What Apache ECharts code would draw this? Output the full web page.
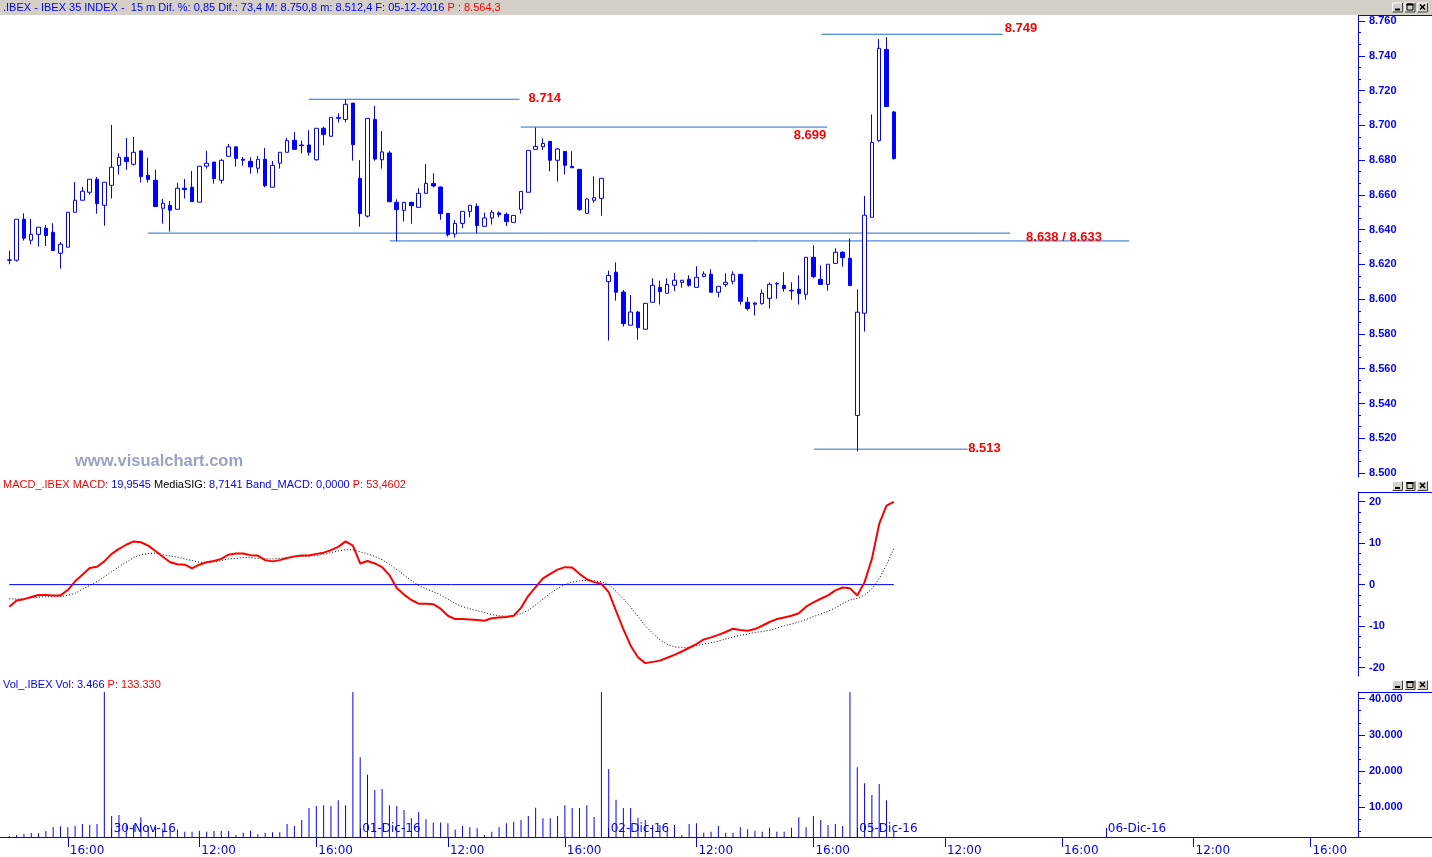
<!DOCTYPE html>
<html><head><meta charset="utf-8">
<script src="https://cdn.jsdelivr.net/npm/echarts@6/dist/echarts.min.js"></script>
<style>html,body{margin:0;padding:0;background:#fff}#c{width:1432px;height:857px}</style>
</head><body><div id="c"></div>
<script>
// ---------- categories ----------
const sessionTimes = ['09:00','09:15','09:30','09:45','10:00','10:15','10:30','10:45','11:00','11:15','11:30','11:45',
  '12:00','12:15','12:30','12:45','13:00','13:15','13:30','13:45','14:00','14:15','14:30','14:45',
  '15:00','15:15','15:30','15:45','16:00','16:15','16:30','16:45','17:00','17:15'];
const days = ['29-Nov-16','30-Nov-16','01-Dic-16','02-Dic-16','05-Dic-16','06-Dic-16','07-Dic-16'];
const firstTime = '14:00';
const timeTickLabels = ['12:00','16:00'];
const dayLabels = ['30-Nov-16','01-Dic-16','02-Dic-16','05-Dic-16','06-Dic-16'];

// ---------- price (OHLC, 15 m bars) ----------
const openV = [8622.6,8622.4,8646.0,8633.9,8637.3,8640.8,8638.5,8626.4,8629.9,8650.0,8656.9,8661.5,8669.0,8654.0,
 8665.5,8677.0,8681.6,8677.6,8685.3,8671.3,8668.4,8652.3,8654.0,8651.7,8663.8,8664.4,8655.8,8676.5,8678.9,8668.4,
 8682.2,8687.6,8680.5,8679.3,8675.3,8680.5,8664.4,8678.2,8684.5,8691.4,8688.7,8688.7,8680.2,8698.3,8693.7,8704.0,8703.4,8712.8,
 8669.5,8647.8,8703.4,8680.2,8684.1,8655.7,8651.1,8655.7,8652.8,8660.9,8666.6,8664.5,8649.4,8637.5,8643.6,8650.5,
 8653.4,8641.9,8646.7,8649.6,8648.8,8644.2,8651.7,8661.5,8686.2,8687.7,8690.8,8679.9,8685.0,8676.4,8674.7,8649.4,8656.9,8658.0,
 8610.1,8615.5,8604.1,8585.0,8592.6,8582.7,8598.2,8606.8,8603.4,8608.0,8609.7,8611.4,8606.8,8613.1,8614.3,8604.0,
 8608.4,8610.3,8614.3,8598.2,8597.8,8597.4,8600.5,8608.7,8608.0,8605.1,8605.7,8602.8,8624.1,8611.4,8608.5,8620.6,8627.0,8623.5,
 8533.1,8591.9,8647.1,8691.2,8743.7,8707.7];
const highV = [8627.8,8646.0,8649.4,8646.2,8641.4,8642.7,8643.7,8632.9,8650.0,8667.4,8664.6,8669.0,8670.3,8667.3,
 8700.2,8683.9,8692.7,8693.3,8685.7,8681.4,8674.4,8657.7,8656.5,8666.9,8669.2,8673.8,8676.5,8685.3,8678.9,8680.5,
 8689.3,8688.1,8681.8,8681.6,8682.4,8687.0,8679.5,8684.5,8692.7,8696.2,8691.2,8697.2,8698.3,8699.2,8704.6,8706.9,8714.9,8712.8,
 8680.0,8704.0,8711.1,8696.7,8685.2,8657.4,8655.7,8655.7,8663.8,8677.7,8672.4,8664.9,8649.4,8645.5,8650.5,8654.0,
 8655.1,8649.8,8651.3,8650.5,8649.8,8648.2,8662.0,8685.6,8698.8,8692.5,8690.8,8687.0,8685.0,8685.2,8674.7,8658.0,8670.7,8669.5,
 8616.4,8621.2,8605.3,8602.4,8593.2,8597.6,8612.0,8610.7,8612.0,8615.1,8610.9,8613.7,8618.9,8616.0,8617.2,8607.4,
 8614.9,8616.0,8614.3,8601.1,8598.2,8605.5,8609.7,8609.7,8615.5,8609.7,8613.7,8624.1,8631.0,8619.5,8620.1,8629.3,8627.5,8635.0,
 8605.7,8659.4,8706.3,8749.7,8750.8,8708.3];
const lowV = [8620.1,8621.6,8633.7,8631.6,8630.3,8630.6,8628.0,8617.6,8629.9,8650.0,8656.9,8660.2,8649.2,8642.3,
 8657.9,8671.7,8674.4,8676.8,8667.1,8667.1,8653.3,8643.5,8638.9,8651.7,8657.9,8656.1,8655.8,8675.1,8666.5,8666.5,
 8682.2,8676.3,8676.8,8672.2,8672.4,8664.4,8664.4,8675.1,8684.5,8685.8,8683.9,8682.6,8679.7,8688.5,8693.7,8701.7,8701.7,8679.7,
 8641.7,8646.9,8679.7,8675.1,8655.7,8633.5,8644.6,8643.4,8652.8,8660.9,8664.3,8645.7,8636.0,8635.4,8640.8,8647.1,
 8637.9,8641.9,8643.0,8647.1,8642.1,8644.2,8649.2,8661.5,8686.2,8685.8,8673.5,8667.6,8671.8,8675.6,8650.9,8649.4,8655.5,8648.0,
 8576.2,8599.2,8584.2,8585.0,8576.7,8582.7,8598.2,8596.9,8603.4,8604.7,8606.6,8607.2,8606.8,8612.6,8604.0,8601.1,
 8607.0,8608.5,8596.9,8593.4,8590.7,8596.9,8594.6,8600.3,8604.3,8599.7,8596.9,8599.7,8612.0,8608.5,8604.9,8620.6,8618.7,8607.8,
 8512.4,8581.4,8647.1,8690.6,8710.8,8680.3];
const closeV = [8622.4,8646.0,8635.1,8637.3,8641.4,8636.6,8628.0,8631.6,8650.0,8656.9,8662.1,8669.0,8655.0,8667.3,
 8675.9,8681.6,8679.1,8684.5,8670.5,8668.8,8653.3,8655.2,8651.2,8663.8,8663.0,8656.1,8676.5,8678.2,8669.4,8679.9,
 8687.6,8680.9,8679.9,8676.1,8680.5,8665.3,8677.0,8684.5,8691.2,8686.2,8688.3,8684.5,8698.3,8694.8,8704.6,8704.6,8712.1,8688.9,
 8649.2,8704.0,8680.6,8684.7,8656.1,8651.5,8655.7,8653.8,8660.9,8666.6,8665.1,8649.2,8637.1,8643.6,8650.5,8654.0,
 8642.3,8646.7,8650.0,8648.6,8644.6,8648.2,8662.0,8685.6,8687.9,8689.6,8679.9,8686.4,8677.0,8675.6,8651.5,8657.6,8658.4,8669.5,
 8613.7,8604.0,8585.9,8592.6,8583.6,8597.6,8608.0,8604.3,8608.5,8610.9,8610.9,8608.0,8612.6,8614.5,8604.0,8607.4,
 8609.7,8614.3,8598.8,8594.6,8597.1,8603.4,8608.5,8609.1,8606.1,8604.7,8603.2,8624.1,8613.0,8608.5,8620.1,8627.0,8623.9,8607.8,
 8592.5,8648.3,8690.2,8744.3,8710.8,8680.9];

// ---------- volume ----------
const volV = [1970,2245,2520,2800,2710,3350,4460,4650,4370,4740,5290,5100,5290,60000,
 7500,7780,5000,5000,7140,4500,4500,4000,4000,3800,3170,3170,3440,3170,3350,3350,3350,2245,2890,3440,2430,2890,2980,2980,
 5290,4740,6400,9700,10300,10500,10300,11900,10500,60000,
 23800,18900,14700,15000,10500,10300,9200,6900,8600,6600,5700,5700,5500,3800,4740,4370,4090,2245,3170,4370,5480,5930,
 6400,7500,9800,6860,6860,7500,10500,9700,9700,10500,7200,60000,
 20500,12000,9700,9700,7000,6400,5000,5000,3600,5000,2245,5290,5480,2890,3170,4740,2890,2890,4370,3810,3440,3170,
 4280,3170,3170,4280,7140,4370,7510,6400,5010,5290,4740,60000,
 21000,16600,13300,16400,11900,3466];

// ---------- MACD ----------
const macdV = [-5.3,-3.8,-3.5,-3.0,-2.5,-2.5,-2.6,-2.6,-1.3,0.8,
 2.4,4.0,4.3,5.6,7.4,8.6,9.6,10.4,10.2,9.4,
 8.1,6.7,5.4,4.9,4.8,3.9,4.8,5.4,5.7,6.2,
 7.2,7.5,7.5,7.1,7.0,5.9,5.6,5.9,6.4,6.8,
 7.0,7.0,7.4,7.7,8.3,9.1,10.4,9.4,5.1,5.7,
 5.1,4.2,2.3,-0.8,-2.4,-3.7,-4.6,-4.6,-4.7,-5.8,
 -7.5,-8.3,-8.3,-8.4,-8.5,-8.7,-8.1,-7.9,-7.8,-7.5,
 -5.6,-2.7,-0.6,1.5,2.6,3.6,4.2,4.1,2.6,1.3,
 0.6,0.2,-1.8,-6.3,-10.7,-14.7,-17.5,-18.9,-18.6,-18.3,
 -17.6,-16.9,-16.1,-15.2,-14.3,-13.2,-12.7,-12.1,-11.4,-10.6,
 -10.9,-11.1,-10.7,-9.9,-9.0,-8.3,-7.9,-7.5,-6.9,-5.3,
 -4.3,-3.4,-2.6,-1.4,-0.7,-0.9,-2.6,0.6,6.2,14.6,
 19.0,19.95];
const sigV = [-3.4,-3.5,-3.4,-3.2,-3.0,-2.9,-2.9,-2.9,-2.6,-2.1,
 -1.1,-0.2,0.7,1.9,3.1,4.3,5.4,6.5,7.2,7.5,
 7.6,7.2,6.9,6.6,6.2,5.8,5.4,5.4,5.5,5.8,
 6.2,6.3,6.5,6.5,6.3,6.2,6.2,6.3,6.5,6.7,
 6.8,6.9,7.0,7.3,7.7,8.1,8.4,8.4,7.9,7.4,
 6.8,6.0,4.9,3.6,2.3,1.0,-0.2,-1.0,-1.7,-2.5,
 -3.5,-4.6,-5.3,-5.8,-6.3,-6.7,-7.2,-7.5,-7.6,-7.5,
 -7.0,-6.2,-4.9,-3.5,-2.1,-0.9,0.0,0.6,0.9,1.0,
 0.9,0.7,0.0,-1.6,-3.4,-5.4,-7.7,-9.9,-11.7,-13.3,
 -14.4,-15.0,-15.1,-15.1,-14.7,-14.3,-14.0,-13.6,-13.1,-12.6,
 -12.2,-11.9,-11.5,-11.3,-11.0,-10.5,-9.9,-9.5,-9.0,-8.4,
 -7.7,-7.1,-6.4,-5.6,-4.6,-3.7,-3.3,-2.5,-1.0,1.4,
 4.8,8.71];
const macdBand = 0;

// ---------- support / resistance levels (bar index range) ----------
const levelValues = [8715.0, 8699.0, 8638.0, 8633.5, 8752.4, 8513.7];
const levelFrom   = [40.98, 69.96, 18.96, 52.05, 111.1, 110.1];
const levelTo     = [69.8, 111.9, 136.9, 153.2, 135.9, 131.1];
const levelLabels = ['8.714', '8.699', '8.638 / 8.633', '', '8.749', '8.513'];

// ---------- axis tick labels ----------
const priceLabels = [8500,8520,8540,8560,8580,8600,8620,8640,8660,8680,8700,8720,8740,8760];
const macdLabels = [-20,-10,0,10,20];
const volLabels = [10000,20000,30000,40000];

// ---------- build ----------
const cats = [];
days.forEach((d, di) => {
  sessionTimes.forEach((t, ti) => {
    if (di === 0 && ti < sessionTimes.indexOf(firstTime)) return;
    if (di === days.length - 1 && ti > 0) return;
    cats.push(d + ' ' + t);
  });
});
const N = cats.length;
const candleData = openV.map((o, i) => [o, closeV[i], lowV[i], highV[i]]);

const priceMinor = [], macdMinor = [], volMinor = [];
for (let k = 0; k <= 39; k++) priceMinor.push(8500 + k * 20 / 3);
for (let k = 0; k <= 16; k++) macdMinor.push(-20 + k * 2.5);
for (let k = 1; k <= 12; k++) volMinor.push(k * 10000 / 3);

const BLUE = '#0000ff', RED = '#ff0000', LEVEL = '#1f6fcc';
const fmtK = v => { const s = String(Math.round(Math.abs(v))).replace(/\B(?=(\d{3})+(?!\d))/g, '.'); return (v < 0 ? '-' : '') + s; };
const isTimeTick = (i, v) => timeTickLabels.indexOf(v.split(' ')[1]) >= 0;
const isDayStart = (i, v) => v.split(' ')[1] === sessionTimes[0] && dayLabels.indexOf(v.split(' ')[0]) >= 0;

const GL = 5.65, GW = 1352.35;
const yAxisBase = (gi, min, max, labels, minor) => [
  { type: 'value', gridIndex: gi, position: 'right', min: min, max: max, splitLine: { show: false },
    axisLine: { show: true, onZero: false, lineStyle: { color: BLUE, width: 1 } },
    axisTick: { show: true, length: 7, customValues: labels, lineStyle: { color: BLUE } },
    axisLabel: { show: true, customValues: labels, formatter: fmtK, color: BLUE, fontWeight: 'bold',
      fontFamily: 'Liberation Sans', fontSize: 11, margin: 11 } },
  { type: 'value', gridIndex: gi, position: 'right', min: min, max: max, splitLine: { show: false },
    axisLine: { show: false, onZero: false }, axisLabel: { show: false },
    axisTick: { show: true, length: 3, customValues: minor, lineStyle: { color: BLUE } } }
];

const series = [];
levelValues.forEach((v, k) => {
  series.push({ type: 'line', xAxisIndex: 4, yAxisIndex: 0, data: [[levelFrom[k], v], [levelTo[k], v]],
    symbol: 'none', silent: true, lineStyle: { color: LEVEL, width: 1 }, z: 1 });
});
series.push({ type: 'candlestick', xAxisIndex: 0, yAxisIndex: 0, data: candleData, barWidth: 4, silent: true,
  itemStyle: { color: '#ffffff', color0: BLUE, borderColor: BLUE, borderColor0: BLUE, borderColorDoji: BLUE, borderWidth: 1 }, z: 3 });
series.push({ type: 'line', xAxisIndex: 5, yAxisIndex: 2, data: [[0, macdBand], [macdV.length - 1, macdBand]],
  symbol: 'none', silent: true, lineStyle: { color: BLUE, width: 1 } });
series.push({ type: 'line', xAxisIndex: 1, yAxisIndex: 2, data: sigV, symbol: 'none', silent: true,
  lineStyle: { color: '#000000', width: 1, type: [1, 2] } });
series.push({ type: 'line', xAxisIndex: 1, yAxisIndex: 2, data: macdV, symbol: 'none', silent: true,
  lineStyle: { color: RED, width: 2 } });
series.push({ type: 'bar', xAxisIndex: 2, yAxisIndex: 4, data: volV, barWidth: 1, silent: true,
  itemStyle: { color: BLUE } });

const option = {
  animation: false,
  backgroundColor: '#ffffff',
  grid: [
    { left: GL, top: 16, width: GW, height: 461 },
    { left: GL, top: 492, width: GW, height: 184 },
    { left: GL, top: 692, width: GW, height: 145 }
  ],
  xAxis: [
    { type: 'category', gridIndex: 0, data: cats, show: false, axisLine: { onZero: false } },
    { type: 'category', gridIndex: 1, data: cats, show: false, axisLine: { onZero: false } },
    { type: 'category', gridIndex: 2, data: cats, position: 'bottom',
      axisLine: { show: true, onZero: false, lineStyle: { color: BLUE, width: 1 } },
      axisTick: { show: true, alignWithLabel: true, interval: isTimeTick, length: 10, lineStyle: { color: BLUE } },
      axisLabel: { show: true, interval: isTimeTick, formatter: v => v.split(' ')[1], align: 'left',
        color: BLUE, fontFamily: 'DejaVu Sans', fontSize: 12, margin: 8, padding: [0, 0, 0, 2] },
      splitLine: { show: false } },
    { type: 'category', gridIndex: 2, data: cats, position: 'bottom',
      axisLine: { show: false, onZero: false },
      axisTick: { show: true, inside: true, alignWithLabel: true, interval: isDayStart, length: 9, lineStyle: { color: BLUE } },
      axisLabel: { show: true, inside: true, interval: isDayStart, formatter: v => v.split(' ')[0], align: 'left',
        color: BLUE, fontFamily: 'DejaVu Sans', fontSize: 12, margin: 2, padding: [0, 0, 0, 2] },
      splitLine: { show: false } },
    { type: 'value', gridIndex: 0, min: -0.5, max: N - 0.5, show: false, axisLine: { onZero: false } },
    { type: 'value', gridIndex: 1, min: -0.5, max: N - 0.5, show: false, axisLine: { onZero: false } }
  ],
  yAxis: [].concat(
    yAxisBase(0, 8497.7, 8762.9, priceLabels, priceMinor),
    yAxisBase(1, -22.0, 22.3, macdLabels, macdMinor),
    yAxisBase(2, 1690, 41856, volLabels, volMinor)
  ),
  series: series
};

const chart = echarts.init(document.getElementById('c'), null, { renderer: 'canvas' });
chart.setOption(option);

// ---------- decorations ----------
function buttons(y) {
  const els = [];
  [1392, 1404.5, 1417].forEach((x, k) => {
    els.push({ type: 'rect', shape: { x: x, y: y, width: 11, height: 10 }, style: { fill: '#d4d0c8' } });
    els.push({ type: 'polyline', shape: { points: [[x + 0.5, y + 9.5], [x + 0.5, y + 0.5], [x + 10.5, y + 0.5]] }, style: { stroke: '#ffffff', fill: null, lineWidth: 1 } });
    els.push({ type: 'polyline', shape: { points: [[x + 0.5, y + 9.5], [x + 10.5, y + 9.5], [x + 10.5, y + 0.5]] }, style: { stroke: '#404040', fill: null, lineWidth: 1 } });
    if (k === 0) els.push({ type: 'rect', shape: { x: x + 3, y: y + 6, width: 5, height: 2 }, style: { fill: '#000' } });
    if (k === 1) {
      els.push({ type: 'rect', shape: { x: x + 2.5, y: y + 1.5, width: 6, height: 6 }, style: { stroke: '#000', fill: null, lineWidth: 1 } });
      els.push({ type: 'rect', shape: { x: x + 2, y: y + 1, width: 7, height: 2 }, style: { fill: '#000' } });
    }
    if (k === 2) {
      els.push({ type: 'line', shape: { x1: x + 3, y1: y + 2, x2: x + 8, y2: y + 7 }, style: { stroke: '#000', lineWidth: 1.5 } });
      els.push({ type: 'line', shape: { x1: x + 8, y1: y + 2, x2: x + 3, y2: y + 7 }, style: { stroke: '#000', lineWidth: 1.5 } });
    }
  });
  return els;
}
const hdrFont = '11px "Liberation Sans"';
const graphics = [
  { type: 'rect', shape: { x: 0, y: 0, width: 1432, height: 15 }, style: { fill: '#d4d0c8' } },
  { type: 'text', x: 3, y: 7.5, style: { text: '{b|.IBEX - IBEX 35 INDEX -  15 m Dif. %: 0,85 Dif.: 73,4 M: 8.750,8 m: 8.512,4 F: 05-12-2016}{r| P : 8.564,3}',
      verticalAlign: 'middle', font: hdrFont, rich: { b: { fill: BLUE, font: hdrFont }, r: { fill: RED, font: hdrFont } } } },
  { type: 'text', x: 3, y: 485, style: { text: '{r|MACD_.IBEX MACD:}{b| 19,9545}{k| MediaSIG:}{b| 8,7141 Band_MACD: 0,0000}{r| P: 53,4602}',
      verticalAlign: 'middle', font: hdrFont, rich: { b: { fill: BLUE, font: hdrFont }, r: { fill: RED, font: hdrFont }, k: { fill: '#000', font: hdrFont } } } },
  { type: 'text', x: 3, y: 685, style: { text: '{b|Vol_.IBEX Vol: 3.466}{r| P: 133.330}',
      verticalAlign: 'middle', font: hdrFont, rich: { b: { fill: BLUE, font: hdrFont }, r: { fill: RED, font: hdrFont } } } },
  { type: 'text', x: 75, y: 461, style: { text: 'www.visualchart.com', fill: '#9aa2c4', font: 'bold 16.5px "Liberation Sans"', verticalAlign: 'middle' } },
  { type: 'line', shape: { x1: 1358, y1: 15.5, x2: 1432, y2: 15.5 }, style: { stroke: BLUE, lineWidth: 1 } },
  { type: 'line', shape: { x1: 1358, y1: 492.5, x2: 1432, y2: 492.5 }, style: { stroke: BLUE, lineWidth: 1 } },
  { type: 'line', shape: { x1: 1358, y1: 692.5, x2: 1432, y2: 692.5 }, style: { stroke: BLUE, lineWidth: 1 } },
  { type: 'line', shape: { x1: 0, y1: 837.5, x2: 1432, y2: 837.5 }, style: { stroke: BLUE, lineWidth: 1 } }
].concat(buttons(2.5), buttons(481), buttons(680));

const labelOffsets = [[9, -1, 'left'], [-1, 8.5, 'right'], [16, 4, 'left'], null, [2, -6, 'left'], [0.5, -1, 'left']];
levelValues.forEach((v, k) => {
  if (!levelLabels[k]) return;
  const p = chart.convertToPixel({ xAxisIndex: 4, yAxisIndex: 0 }, [levelTo[k], v]);
  const o = labelOffsets[k];
  graphics.push({ type: 'text', x: p[0] + o[0], y: p[1] + o[1], z: 10,
    style: { text: levelLabels[k], fill: RED, font: 'bold 13px "Liberation Sans"', align: o[2], verticalAlign: 'middle' } });
});
chart.setOption({ graphic: graphics });
</script>
</body></html>
